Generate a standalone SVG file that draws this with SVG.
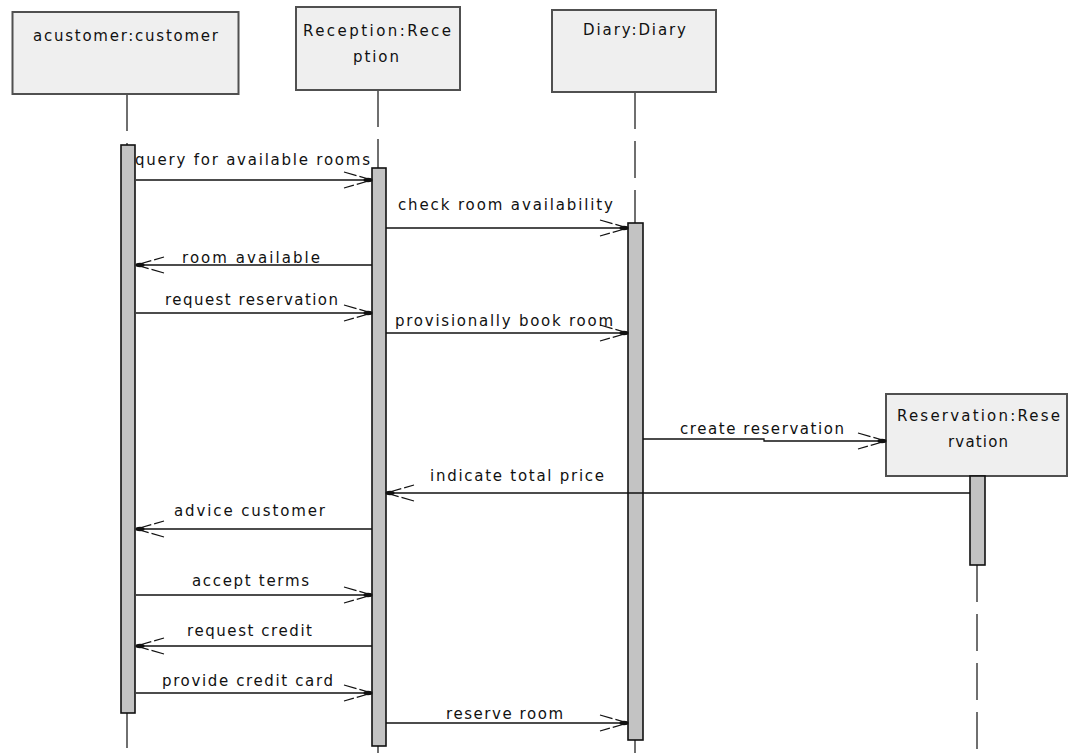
<svg xmlns="http://www.w3.org/2000/svg" width="1068" height="753" viewBox="0 0 1068 753">
  <defs>
    <style>
      .obj { fill: #efefef; stroke: #505050; stroke-width: 2; }
      .life { stroke: #333; stroke-width: 1.4; stroke-dasharray: 37 12; fill: none; }
      .tail { stroke: #333; stroke-width: 1.4; fill: none; }
      .act { fill: #c3c3c3; stroke: #111; stroke-width: 1.6; }
      .msg { stroke: #111; stroke-width: 1.3; fill: none; marker-end: url(#head); }
      text { font-family: "DejaVu Sans", "Liberation Sans", sans-serif; font-size: 15px; fill: #111; }
    </style>
    <!-- open arrowhead with a small filled tip -->
    <marker id="head" markerUnits="userSpaceOnUse" orient="auto" markerWidth="40" markerHeight="24" viewBox="-32 -12 40 24" refX="0" refY="0" overflow="visible">
      <path d="M -28 -8 L 0 0 L -28 8" fill="none" stroke="#111" stroke-width="1.2" stroke-dasharray="13 3"/>
      <ellipse cx="-4" cy="0" rx="4.5" ry="2.2" fill="#111"/>
    </marker>
  </defs>

  <rect width="1068" height="753" fill="#ffffff"/>

  <!-- lifelines -->
  <g id="lifelines">
    <line class="life" x1="127" y1="94" x2="127" y2="145"/>
    <line class="tail" x1="127" y1="713" x2="127" y2="748"/>
    <line class="life" x1="378" y1="90" x2="378" y2="168"/>
    <line class="tail" x1="378" y1="746" x2="378" y2="753"/>
    <line class="life" x1="635" y1="92" x2="635" y2="223"/>
    <line class="tail" x1="635" y1="740" x2="635" y2="753"/>
    <line class="life" x1="977" y1="565" x2="977" y2="753"/>
  </g>

  <!-- objects -->
  <g id="customer">
    <rect class="obj" x="12.5" y="12" width="226" height="82"/>
    <text x="33" y="41" textLength="185" lengthAdjust="spacing">acustomer:customer</text>
    <rect class="act" x="121" y="145" width="14" height="568"/>
  </g>
  <g id="reception">
    <rect class="obj" x="296" y="7" width="164" height="83"/>
    <text x="303" y="36" textLength="148" lengthAdjust="spacing">Reception:Rece</text>
    <text x="353" y="62" textLength="46" lengthAdjust="spacing">ption</text>
    <rect class="act" x="372" y="168" width="14" height="578"/>
  </g>
  <g id="diary">
    <rect class="obj" x="552" y="10" width="164" height="82"/>
    <text x="583" y="35" textLength="103" lengthAdjust="spacing">Diary:Diary</text>
    <rect class="act" x="628" y="223" width="15" height="517"/>
  </g>
  <g id="reservation">
    <rect class="obj" x="886" y="394" width="181" height="82"/>
    <text x="897" y="421" textLength="163" lengthAdjust="spacing">Reservation:Rese</text>
    <text x="948" y="447" textLength="60" lengthAdjust="spacing">rvation</text>
    <rect class="act" x="970" y="476" width="15" height="89"/>
  </g>

  <!-- messages -->
  <g id="connectors">
    <path class="msg" d="M136 180 H372"/>
    <path class="msg" d="M386 228 H628"/>
    <path class="msg" d="M372 265 H136"/>
    <path class="msg" d="M136 313 H372"/>
    <path class="msg" d="M386 333 H628"/>
    <path class="msg" d="M643 439 H764 V441 H886"/>
    <path class="msg" d="M970 493 H386"/>
    <path class="msg" d="M372 529 H136"/>
    <path class="msg" d="M136 595 H372"/>
    <path class="msg" d="M372 646 H136"/>
    <path class="msg" d="M136 693 H372"/>
    <path class="msg" d="M386 723 H628"/>
  </g>

  <g id="labels">
    <text x="135" y="165" textLength="235" lengthAdjust="spacing">query for available rooms</text>
    <text x="398" y="210" textLength="215" lengthAdjust="spacing">check room availability</text>
    <text x="182" y="263" textLength="138" lengthAdjust="spacing">room available</text>
    <text x="165" y="305" textLength="173" lengthAdjust="spacing">request reservation</text>
    <text x="395" y="326" textLength="218" lengthAdjust="spacing">provisionally book room</text>
    <text x="680" y="434" textLength="164" lengthAdjust="spacing">create reservation</text>
    <text x="430" y="481" textLength="174" lengthAdjust="spacing">indicate total price</text>
    <text x="174" y="516" textLength="151" lengthAdjust="spacing">advice customer</text>
    <text x="192" y="586" textLength="117" lengthAdjust="spacing">accept terms</text>
    <text x="187" y="636" textLength="125" lengthAdjust="spacing">request credit</text>
    <text x="162" y="686" textLength="171" lengthAdjust="spacing">provide credit card</text>
    <text x="446" y="719" textLength="117" lengthAdjust="spacing">reserve room</text>
  </g>
</svg>
